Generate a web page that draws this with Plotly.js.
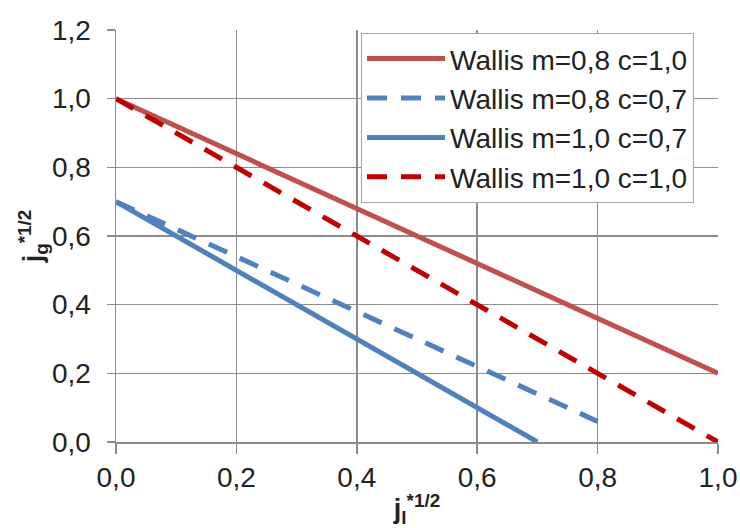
<!DOCTYPE html>
<html>
<head>
<meta charset="utf-8">
<script src="https://cdn.plot.ly/plotly-3.0.1.min.js"></script>
<style>html,body{margin:0;padding:0;background:#fff;}#chart{width:740px;height:528px;}</style>
</head>
<body>
<div id="chart"></div>
<script>
// Data
var jl = [0.0, 0.1, 0.2, 0.3, 0.4, 0.5, 0.6, 0.7, 0.8, 0.9, 1.0];
var wallis_m08_c10 = [1.00, 0.92, 0.84, 0.76, 0.68, 0.60, 0.52, 0.44, 0.36, 0.28, 0.20];
var wallis_m08_c07 = [0.70, 0.62, 0.54, 0.46, 0.38, 0.30, 0.22, 0.14, 0.06];
var wallis_m10_c07 = [0.70, 0.60, 0.50, 0.40, 0.30, 0.20, 0.10, 0.00];
var wallis_m10_c10 = [1.00, 0.90, 0.80, 0.70, 0.60, 0.50, 0.40, 0.30, 0.20, 0.10, 0.00];
var seriesNames = ["Wallis m=0,8 c=1,0", "Wallis m=0,8 c=0,7", "Wallis m=1,0 c=0,7", "Wallis m=1,0 c=1,0"];
var xTickVals = [0, 0.2, 0.4, 0.6, 0.8, 1.0];
var xTickText = ["0,0", "0,2", "0,4", "0,6", "0,8", "1,0"];
var yTickVals = [0, 0.2, 0.4, 0.6, 0.8, 1.0, 1.2];
var yTickText = ["0,0", "0,2", "0,4", "0,6", "0,8", "1,0", "1,2"];

var traces = [
  {x: jl.slice(0, wallis_m08_c10.length), y: wallis_m08_c10, name: seriesNames[0], mode: "lines",
   line: {color: "#C0504D", width: 5}},
  {x: jl.slice(0, wallis_m08_c07.length), y: wallis_m08_c07, name: seriesNames[1], mode: "lines",
   line: {color: "#4F81BD", width: 5, dash: "20px,14px"}},
  {x: jl.slice(0, wallis_m10_c07.length), y: wallis_m10_c07, name: seriesNames[2], mode: "lines",
   line: {color: "#4F81BD", width: 5}},
  {x: jl.slice(0, wallis_m10_c10.length), y: wallis_m10_c10, name: seriesNames[3], mode: "lines",
   line: {color: "#C00000", width: 5, dash: "20px,14px"}}
];

var layout = {
  width: 740, height: 528,
  margin: {l: 116, r: 22, t: 30, b: 86, pad: 0},
  paper_bgcolor: "#fff", plot_bgcolor: "#fff",
  font: {family: "Liberation Sans, Arial, sans-serif", color: "#222", size: 28},
  showlegend: true,
  legend: {
    x: 0.407, y: 0.993, xanchor: "left", yanchor: "top",
    bgcolor: "#fff", bordercolor: "#A6A6A6", borderwidth: 1,
    font: {size: 28, color: "#222"},
    tracegroupgap: 0, itemwidth: 78
  },
  xaxis: {
    range: [0, 1.0], tickvals: xTickVals, ticktext: xTickText,
    showgrid: true, gridcolor: "#8C8C8C", gridwidth: 1.5,
    showline: true, linecolor: "#8C8C8C", linewidth: 1.5,
    ticks: "outside", ticklen: 10, tickcolor: "#8C8C8C", tickwidth: 1.5,
    zeroline: false, tickfont: {size: 28},
    title: {text: "<b>j<sub>l</sub><sup>*1/2</sup></b>", font: {size: 27}, standoff: 8}
  },
  yaxis: {
    range: [0, 1.2], tickvals: yTickVals, ticktext: yTickText,
    showgrid: true, gridcolor: "#8C8C8C", gridwidth: 1.5,
    showline: true, linecolor: "#8C8C8C", linewidth: 1.5,
    ticks: "outside", ticklen: 8, tickcolor: "#8C8C8C", tickwidth: 1.5,
    ticklabelstandoff: 10,
    zeroline: false, tickfont: {size: 28},
    title: {text: "<b>j<sub>g</sub><sup>*1/2</sup></b>", font: {size: 27}, standoff: 0}
  }
};

Plotly.newPlot("chart", traces, layout, {displayModeBar: false, staticPlot: true});
</script>
</body>
</html>
